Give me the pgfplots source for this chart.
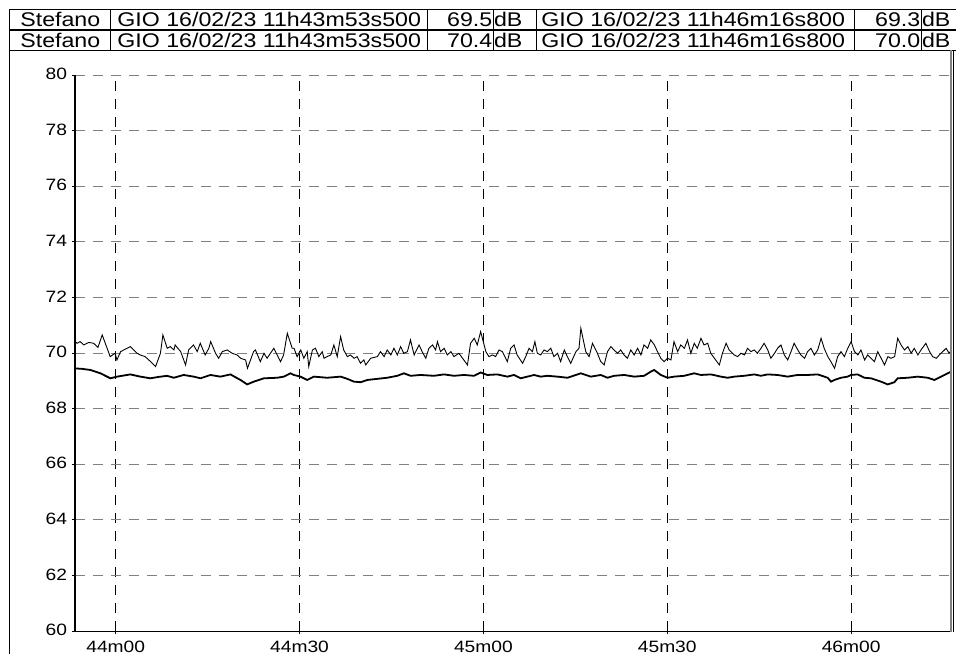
\documentclass[border=0pt]{standalone}
\usepackage{fontspec}
\setmainfont{Liberation Sans}[FakeStretch=1.17]
\usepackage{pgfplots}
\usepackage{pgfplotstable}
\pgfplotsset{compat=1.18}
\definecolor{gridgray}{RGB}{128,128,128}
\newcommand\hdr{\fontsize{9.9}{11}\selectfont}

% seconds after 11h44m00, level in dB
\pgfplotstableread{
t L
-6.86 70.47
-6.3 70.35
-5.8 70.41
-5.2 70.29
-4.4 70.38
-3.6 70.35
-2.9 70.20
-2.2 70.65
-0.9 69.87
-0.1 69.99
0.2 69.75
0.8 70.05
1.85 70.17
2.4 70.23
3.5 69.99
4.0 69.93
4.8 69.87
5.7 69.69
6.5 69.51
7.0 69.81
7.3 69.99
7.7 70.65
8.4 70.17
8.9 70.23
9.5 70.11
9.7 70.29
10.6 70.05
11.4 69.57
11.9 70.11
12.7 70.29
13.3 70.05
13.8 70.35
14.6 69.93
15.2 70.17
15.5 70.41
16.3 69.99
16.8 69.81
17.4 70.05
18.2 70.11
19.0 69.99
19.8 69.93
20.4 69.81
21.2 69.75
21.5 69.45
22.5 70.05
22.8 70.11
23.6 69.69
24.2 69.99
24.7 69.81
25.8 70.17
26.9 69.69
27.4 69.93
28.0 70.71
28.8 70.17
29.1 70.17
29.6 69.87
30.2 70.11
30.7 69.81
31.25 70.05
31.5 69.51
32.1 70.11
32.6 70.17
33.15 69.87
33.7 70.05
34.0 69.81
34.5 69.87
35.1 69.93
35.6 70.29
36.15 69.87
36.7 70.59
37.2 70.11
37.8 69.87
38.3 69.93
38.9 69.81
39.4 69.87
39.95 69.63
40.5 69.75
40.8 69.57
41.6 69.81
42.7 69.87
43.2 70.05
43.8 69.87
44.3 70.11
44.9 69.93
45.4 70.17
45.95 69.93
46.5 70.23
47.0 69.99
47.6 70.05
48.1 70.47
48.7 69.93
49.5 70.29
50.0 70.05
50.6 69.81
51.1 70.17
51.7 70.29
52.2 70.11
52.5 70.41
53.0 70.05
53.6 70.17
54.1 69.93
54.7 70.05
55.2 69.87
56.0 69.99
56.6 69.81
57.4 69.57
57.9 70.35
58.5 70.53
59.0 70.29
59.55 70.77
60.4 70.05
60.9 69.87
61.5 69.93
62.0 69.87
62.55 70.11
63.1 70.05
63.9 69.69
64.45 70.17
65.0 70.29
65.5 69.93
66.4 69.63
66.9 69.87
67.45 70.17
68.0 70.05
68.4 70.41
68.8 69.99
69.35 69.93
69.9 70.11
70.45 70.05
71.0 70.17
71.5 69.87
72.1 69.99
72.6 69.69
73.2 70.11
73.7 69.87
74.25 69.63
75.1 70.05
75.6 70.17
75.9 70.89
76.7 70.05
77.25 69.87
77.8 70.35
78.6 69.99
79.15 69.69
79.7 69.57
80.25 70.05
80.8 70.23
81.3 70.11
81.9 69.99
82.4 70.11
82.95 69.93
83.5 69.81
84.05 70.11
84.6 69.93
85.15 70.17
85.7 69.93
86.2 70.29
86.8 70.17
87.3 70.47
87.9 70.29
88.4 70.05
88.95 69.81
89.5 69.69
90.05 69.81
90.6 69.75
91.1 70.41
91.7 70.05
92.2 70.29
92.8 70.17
93.3 70.47
93.85 69.99
94.4 70.35
94.9 70.17
95.5 70.53
96.0 70.29
96.6 70.35
97.1 69.99
97.7 69.81
98.5 69.57
99.0 69.99
99.6 70.35
100.1 70.11
100.93 69.93
101.5 69.87
102.0 69.99
102.6 69.93
103.1 70.17
103.65 70.05
104.2 70.11
104.7 69.99
105.3 70.17
105.8 70.35
106.4 70.11
106.9 69.81
107.5 69.99
108.0 70.17
108.55 70.29
109.1 69.93
109.65 69.75
110.2 70.05
110.7 70.35
111.3 70.11
111.8 69.93
112.4 69.81
112.9 70.05
113.45 70.17
114.0 69.93
114.55 70.11
115.1 70.53
115.6 70.17
116.2 69.87
116.7 69.69
117.3 69.45
117.8 69.87
118.35 70.05
118.9 69.87
119.45 70.17
120.0 70.41
120.55 70.05
121.1 69.93
121.6 70.11
122.2 69.75
122.7 69.93
123.25 69.81
123.8 69.69
124.35 70.05
124.9 69.81
125.45 69.57
126.0 69.87
126.5 69.81
127.1 69.87
127.6 70.53
128.15 70.29
128.7 70.11
129.25 70.23
129.8 69.99
130.3 70.17
130.9 69.93
131.4 70.11
132.2 70.35
132.8 70.05
133.3 69.87
133.9 69.81
134.4 69.93
134.95 70.05
135.5 70.17
136.0 69.99
136.6 70.17
}\upperdata

\pgfplotstableread{
t L
-6.86 69.45
-5.5 69.43
-4.14 69.39
-2.5 69.27
-0.87 69.09
0.22 69.15
1.3 69.19
2.39 69.23
4.03 69.15
5.66 69.09
7.0 69.14
8.38 69.18
9.47 69.11
11.1 69.21
12.74 69.15
13.83 69.09
15.46 69.21
17.09 69.15
18.72 69.23
20.36 69.03
21.45 68.87
22.54 68.97
24.17 69.09
26.35 69.11
27.44 69.15
28.52 69.27
29.07 69.21
30.16 69.15
31.25 69.03
32.34 69.15
34.5 69.11
36.7 69.15
37.8 69.07
38.87 68.97
39.96 68.95
41.05 69.03
42.68 69.07
44.3 69.11
45.95 69.18
47.03 69.27
48.12 69.18
49.76 69.21
51.93 69.18
53.57 69.23
55.2 69.18
56.83 69.21
58.47 69.18
59.55 69.30
60.64 69.21
62.28 69.23
63.91 69.15
65.0 69.21
66.09 69.09
67.18 69.15
68.27 69.21
69.35 69.15
70.44 69.18
72.08 69.15
73.71 69.11
75.07 69.21
75.89 69.27
77.52 69.15
79.15 69.21
80.24 69.11
81.33 69.18
82.96 69.21
84.6 69.15
86.23 69.18
87.32 69.33
87.86 69.39
88.95 69.21
90.04 69.11
91.13 69.15
92.76 69.18
94.4 69.27
95.48 69.21
97.12 69.23
98.75 69.15
99.84 69.11
100.93 69.15
102.56 69.18
104.2 69.23
105.28 69.18
106.37 69.23
108.0 69.21
109.64 69.15
111.27 69.21
112.9 69.21
114.54 69.23
116.17 69.11
116.72 68.97
117.26 69.03
118.35 69.11
119.44 69.15
119.98 69.21
121.07 69.23
122.16 69.11
123.25 69.09
124.88 68.97
125.97 68.87
127.06 68.95
127.6 69.09
129.24 69.11
130.87 69.15
132.5 69.11
133.59 69.03
134.68 69.15
135.77 69.27
136.3 69.33
}\lowerdata

\begin{document}
\begin{tikzpicture}
\path[use as bounding box] (0pt,0pt) rectangle (478pt,-326.5pt);

% header rows
\foreach \ya/\yb in {-4.5/-14.5,-15/-25}{
  \draw[line width=0.5pt] (4.5pt,\ya pt) rectangle (478pt,\yb pt);
  \foreach \xx in {55,213.5,246.5,268,427,460.5}
    \draw[line width=0.5pt] (\xx pt,\ya pt) -- (\xx pt,\yb pt);
}
\foreach \yy/\va/\vb in {-9.6/69.5/69.3,-20.1/70.4/70.0}{
  \node[anchor=west,inner sep=0pt,font=\hdr] at (10pt,\yy pt) {Stefano};
  \node[anchor=west,inner sep=0pt,font=\hdr] at (58.5pt,\yy pt) {GIO 16/02/23 11h43m53s500};
  \node[anchor=east,inner sep=0pt,font=\hdr] at (246.3pt,\yy pt) {\va};
  \node[anchor=west,inner sep=0pt,font=\hdr] at (246.8pt,\yy pt) {dB};
  \node[anchor=west,inner sep=0pt,font=\hdr] at (270.5pt,\yy pt) {GIO 16/02/23 11h46m16s800};
  \node[anchor=east,inner sep=0pt,font=\hdr] at (460.3pt,\yy pt) {\vb};
  \node[anchor=west,inner sep=0pt,font=\hdr] at (460.8pt,\yy pt) {dB};
}
\draw[line width=0.5pt] (4.5pt,-25pt) -- (4.5pt,-330pt);

\begin{axis}[
  at={(37.5pt,-315.5pt)}, anchor=south west,
  scale only axis, width=438pt, height=278pt,
  xmin=-6.64, xmax=136.3, ymin=60, ymax=80,
  axis x line=bottom, axis y line=left,
  x axis line style={-,line width=0.5pt},
  y axis line style={-,line width=1.3pt},
  xtick={0,30,60,90,120},
  xticklabels={44m00,44m30,45m00,45m30,46m00},
  ytick={60,62,...,80},
  yticklabels={60,62,64,66,68,70,72,74,76,78,80},
  tick align=outside, major tick length=1.5pt,
  tick style={black,line width=0.5pt},
  tick label style={font=\fontsize{8.2}{9}\selectfont},
  xticklabel style={yshift=0pt},
  yticklabel style={xshift=1pt,yshift=0.5pt},
  grid=major,
  x grid style={black,line width=0.5pt,dash pattern=on 5pt off 4pt},
  y grid style={gridgray,line width=0.5pt,dash pattern=on 5pt off 4pt},
  clip=true,
]
\addplot[black,line width=0.45pt] table[x=t,y=L] {\upperdata};
\addplot[black,line width=0.9pt] table[x=t,y=L] {\lowerdata};
\end{axis}

\draw[gridgray,line width=0.6pt] (475.5pt,-25pt) -- (475.5pt,-316pt);
\draw[black,line width=0.6pt] (476.7pt,-25pt) -- (476.7pt,-316pt);
\end{tikzpicture}
\end{document}
